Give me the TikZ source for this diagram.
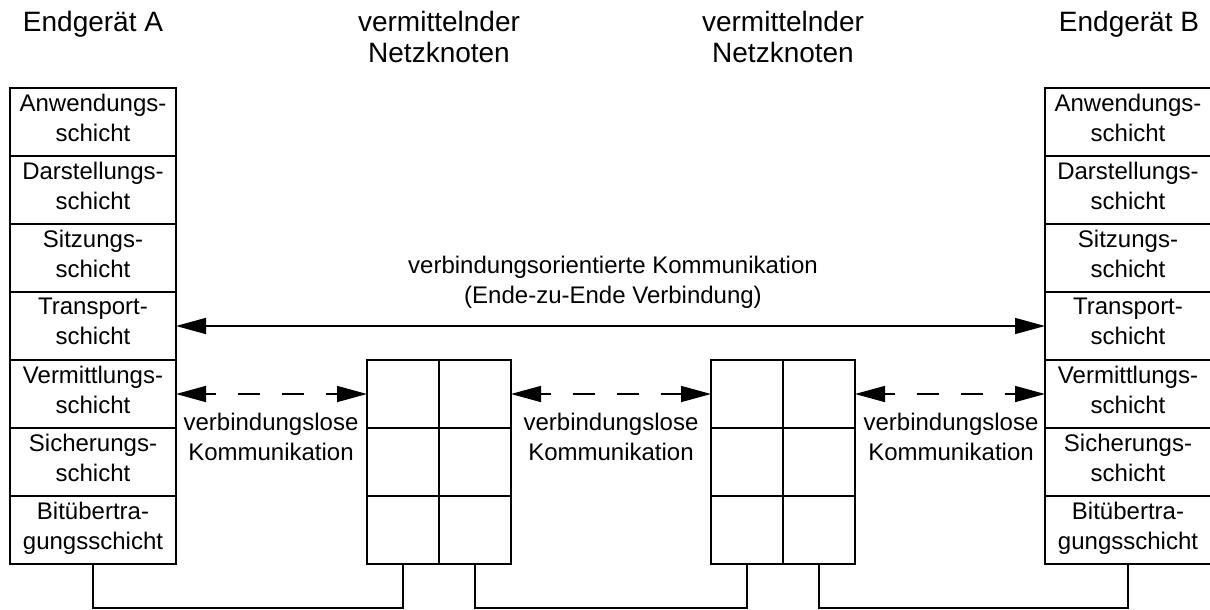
\documentclass[tikz,border=0pt]{standalone}
\usepackage{fontspec}
\setmainfont{Liberation Sans}
\usetikzlibrary{arrows.meta}
\begin{document}
\begin{tikzpicture}[x=1pt,y=-1pt,
  every node/.style={inner sep=0pt, outer sep=0pt},
  struts/.style={execute at begin node={\strut}, execute at end node={\strut}},
  layer/.style={draw, line width=1.6pt, minimum width=166pt, minimum height=68pt,
    align=center, struts, font=\fontsize{24}{30}\selectfont},
  cell/.style={draw, line width=1.6pt, minimum width=72pt, minimum height=68pt},
  devtitle/.style={align=center, struts, font=\fontsize{28}{31}\selectfont},
  caption/.style={align=center, struts, font=\fontsize{24}{30}\selectfont},
  link/.style={line width=1.6pt,
    {Triangle[length=30pt,width=16pt]}-{Triangle[length=30pt,width=16pt]}},
  datagram/.style={link, dash pattern=on 22pt off 22pt, dash phase=12pt},
  wire/.style={line width=1.6pt},
]
\useasboundingbox (0,0) rectangle (1210,610);

% device titles
\node[devtitle] (tA) at (93,25)  {Endgerät A};
\node[devtitle] (tN1) at (439,42) {vermittelnder\\Netzknoten};
\node[devtitle] (tN2) at (783,42) {vermittelnder\\Netzknoten};
\node[devtitle] (tB) at (1129,25) {Endgerät B};

% end device A: seven OSI layers
\node[layer] (a1) at (93,122) {Anwendungs-\\schicht};
\node[layer] (a2) at (93,190) {Darstellungs-\\schicht};
\node[layer] (a3) at (93,258) {Sitzungs-\\schicht};
\node[layer] (a4) at (93,326) {Transport-\\schicht};
\node[layer] (a5) at (93,394) {Vermittlungs-\\schicht};
\node[layer] (a6) at (93,462) {Sicherungs-\\schicht};
\node[layer] (a7) at (93,530) {Bitübertra-\\gungsschicht};

% end device B: seven OSI layers
\node[layer] (b1) at (1128,122) {Anwendungs-\\schicht};
\node[layer] (b2) at (1128,190) {Darstellungs-\\schicht};
\node[layer] (b3) at (1128,258) {Sitzungs-\\schicht};
\node[layer] (b4) at (1128,326) {Transport-\\schicht};
\node[layer] (b5) at (1128,394) {Vermittlungs-\\schicht};
\node[layer] (b6) at (1128,462) {Sicherungs-\\schicht};
\node[layer] (b7) at (1128,530) {Bitübertra-\\gungsschicht};

% first switching node: two ports, three lower layers each
\node[cell] (p1) at (403,394) {};
\node[cell] (p2) at (403,462) {};
\node[cell] (p3) at (403,530) {};
\node[cell] (q1) at (475,394) {};
\node[cell] (q2) at (475,462) {};
\node[cell] (q3) at (475,530) {};

% second switching node
\node[cell] (r1) at (747,394) {};
\node[cell] (r2) at (747,462) {};
\node[cell] (r3) at (747,530) {};
\node[cell] (s1) at (819,394) {};
\node[cell] (s2) at (819,462) {};
\node[cell] (s3) at (819,530) {};

% end-to-end connection on the transport layer
\draw[link] (a4.east) -- (b4.west);
\node[caption] (e2e) at (613,284) {verbindungsorientierte Kommunikation\\(Ende-zu-Ende Verbindung)};

% hop-by-hop datagram links on the network layer
\draw[datagram] (a5.east) -- (p1.west);
\draw[datagram] (q1.east) -- (r1.west);
\draw[datagram] (s1.east) -- (b5.west);
\node[caption] (cl1) at (271,441) {verbindungslose\\Kommunikation};
\node[caption] (cl2) at (611,441) {verbindungslose\\Kommunikation};
\node[caption] (cl3) at (951,441) {verbindungslose\\Kommunikation};

% physical media
\draw[wire] (a7.south) -- ++(0,44) -| (p3.south);
\draw[wire] (q3.south) -- ++(0,44) -| (r3.south);
\draw[wire] (s3.south) -- ++(0,44) -| (b7.south);
\end{tikzpicture}
\end{document}
